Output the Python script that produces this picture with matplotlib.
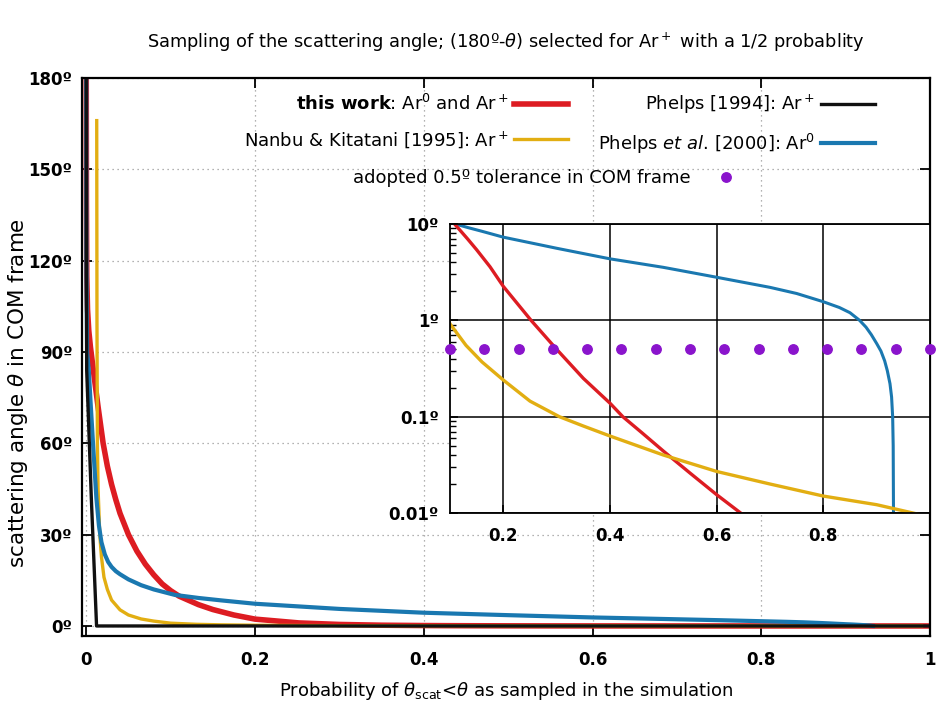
import numpy as np
import matplotlib
matplotlib.use('Agg')
import matplotlib.pyplot as plt

# probability (x) and scattering angle in degrees (y)
p_this = [0, 0.0002, 0.0006, 0.0015, 0.003, 0.005, 0.0075, 0.010, 0.014, 0.020, 0.025,
          0.030, 0.035, 0.040, 0.050, 0.060, 0.070, 0.080, 0.090, 0.100, 0.110, 0.133,
          0.150, 0.175, 0.200, 0.252, 0.300, 0.350, 0.400, 0.424, 0.460, 0.500, 0.550,
          0.600, 0.645, 0.700, 0.750, 0.800, 1.0]
th_this = [180, 140, 115, 104, 97, 91.5, 86, 80.5, 72, 60, 52.5,
           46.5, 41.5, 37, 30, 24.6, 20.3, 16.8, 13.8, 11.6, 9.8, 7.0,
           5.4, 3.6, 2.25, 1.0, 0.5, 0.25, 0.138, 0.1, 0.068, 0.044, 0.026,
           0.0155, 0.01, 0.0058, 0.0035, 0, 0]

p_nanbu = [0.0124, 0.0127, 0.0132, 0.014, 0.016, 0.018, 0.021, 0.025, 0.030, 0.040,
           0.050, 0.065, 0.080, 0.100, 0.130, 0.160, 0.200, 0.250, 0.305, 0.350,
           0.400, 0.500, 0.600, 0.700, 0.800, 0.900, 0.975, 0.990]
th_nanbu = [166, 100, 60, 45, 30, 22.7, 16, 12, 8.5, 5.3,
            3.6, 2.3, 1.6, 0.92, 0.55, 0.37, 0.24, 0.145, 0.1, 0.08,
            0.063, 0.04, 0.027, 0.02, 0.015, 0.0122, 0.0098, 0.0093]

p_phelps94 = [0, 0.0002, 0.0005, 0.006, 0.0122, 1.0]
th_phelps94 = [180, 120, 84, 42, 0, 0]

p_phelps00 = [0, 0.0002, 0.001, 0.003, 0.005, 0.008, 0.012, 0.015, 0.018, 0.022, 0.026,
              0.030, 0.035, 0.040, 0.050, 0.065, 0.080, 0.105, 0.133, 0.160, 0.200,
              0.300, 0.400, 0.500, 0.600, 0.700, 0.750, 0.800, 0.830, 0.850, 0.868,
              0.880, 0.890, 0.900, 0.908, 0.915, 0.920, 0.925, 0.928, 0.930, 0.931,
              0.932, 0.9322]
th_phelps00 = [180, 120, 90, 84, 74, 60, 42, 33, 27.5, 23.5, 21,
               19.4, 18, 17, 15.3, 13.4, 12, 10.2, 9.2, 8.4, 7.3,
               5.6, 4.35, 3.55, 2.8, 2.2, 1.9, 1.56, 1.36, 1.2, 1.0,
               0.85, 0.71, 0.575, 0.48, 0.38, 0.30, 0.22, 0.16, 0.1, 0.05,
               0.003, 0]

p_tol = [0.1, 0.164, 0.229, 0.293, 0.357, 0.421, 0.486, 0.55, 0.614, 0.679,
         0.743, 0.807, 0.871, 0.936, 1.0]
th_tol = [0.5] * len(p_tol)

x_ticks = [0, 0.2, 0.4, 0.6, 0.8, 1]
x_labels = ['0', '0.2', '0.4', '0.6', '0.8', '1']
y_ticks = [0, 30, 60, 90, 120, 150, 180]
y_labels = ['0º', '30º', '60º', '90º', '120º', '150º', '180º']
in_x_ticks = [0.2, 0.4, 0.6, 0.8]
in_y_ticks = [0.01, 0.1, 1, 10]
in_y_labels = ['0.01º', '0.1º', '1º', '10º']

c_red = '#dd1c22'
c_yel = '#e2ae12'
c_blu = '#1a78b0'
c_blk = '#111111'
c_pur = '#8a14cc'

fig = plt.figure(figsize=(9.43, 7.02), dpi=100)
ax = fig.add_axes([0.087, 0.094, 0.8993, 0.7949])

l_this, = ax.plot(p_this, th_this, color=c_red, lw=4.0,
                  label=r'$\bf{this\ work}$: Ar$^0$ and Ar$^+$')
l_nanbu, = ax.plot(p_nanbu, th_nanbu, color=c_yel, lw=2.4,
                   label='Nanbu & Kitatani [1995]: Ar$^+$')
l_p00, = ax.plot(p_phelps00, th_phelps00, color=c_blu, lw=3.0,
                 label=r'Phelps $\it{et\ al}$. [2000]: Ar$^0$')
l_p94, = ax.plot(p_phelps94, th_phelps94, color=c_blk, lw=2.4,
                 label='Phelps [1994]: Ar$^+$')

ax.set_xlim(-0.005, 1.0)
ax.set_ylim(-3.3, 180)
ax.set_xticks(x_ticks)
ax.set_xticklabels(x_labels)
ax.set_yticks(y_ticks)
ax.set_yticklabels(y_labels)
ax.tick_params(direction='in', length=7, width=1.3, top=True, right=True, labelsize=12)
ax.tick_params(axis='x', pad=11)
ax.tick_params(axis='y', pad=7)
for lbl in ax.get_xticklabels() + ax.get_yticklabels():
    lbl.set_fontweight('bold')
ax.grid(True, ls=(0, (1, 3)), color='#999999', lw=0.9)
for s in ax.spines.values():
    s.set_linewidth(1.6)

ax.set_title('Sampling of the scattering angle; (180º-$\\theta$) selected for Ar$^+$ with a 1/2 probablity',
             fontsize=12.8, pad=22)
ax.set_xlabel(r'Probability of $\theta_{\rm scat}$<$\theta$ as sampled in the simulation',
              fontsize=13, labelpad=8)
ax.set_ylabel(r'scattering angle $\theta$ in COM frame', fontsize=15.5)
ax.yaxis.set_label_coords(-0.061, 0.435)

# inset, log scale
axin = fig.add_axes([0.4772, 0.2692, 0.5090, 0.4117])
axin.set_facecolor('white')
axin.plot(p_phelps00, th_phelps00, color=c_blu, lw=2.2)
axin.plot(p_this, th_this, color=c_red, lw=2.4)
axin.plot(p_nanbu, th_nanbu, color=c_yel, lw=2.4)
l_tol, = axin.plot(p_tol, th_tol, 'o', color=c_pur, ms=6.8, clip_on=False, zorder=5,
                   label='adopted 0.5º tolerance in COM frame')
axin.set_yscale('log')
axin.set_xlim(0.1, 1.0)
axin.set_ylim(0.01, 10)
axin.set_xticks(in_x_ticks)
axin.set_yticks(in_y_ticks)
axin.set_yticklabels(in_y_labels)
axin.tick_params(which='both', direction='in', labelsize=12)
axin.tick_params(which='major', length=6, width=1.2)
axin.tick_params(which='minor', length=4, width=1.0)
axin.tick_params(axis='x', pad=10)
axin.tick_params(axis='y', pad=8)
for lbl in axin.get_xticklabels() + axin.get_yticklabels():
    lbl.set_fontweight('bold')
axin.grid(True, which='major', color='black', lw=1.1)
for s in axin.spines.values():
    s.set_linewidth(1.3)

leg1 = ax.legend(handles=[l_this, l_nanbu, l_p94, l_p00], ncol=2, markerfirst=False,
                 frameon=False, fontsize=13, loc='upper right',
                 bbox_to_anchor=(875 / 943, 1 - 93 / 702), bbox_transform=fig.transFigure,
                 borderpad=0, borderaxespad=0, handlelength=3.0, handletextpad=0.3,
                 columnspacing=1.66, labelspacing=0.85)
ax.add_artist(leg1)
ax.legend(handles=[l_tol], markerfirst=False, frameon=False, fontsize=13,
          loc='upper right', bbox_to_anchor=(744 / 943, 1 - 169 / 702),
          bbox_transform=fig.transFigure, borderpad=0, borderaxespad=0,
          handlelength=2.0, handletextpad=0.94)

fig.savefig('out.png', dpi=100)
